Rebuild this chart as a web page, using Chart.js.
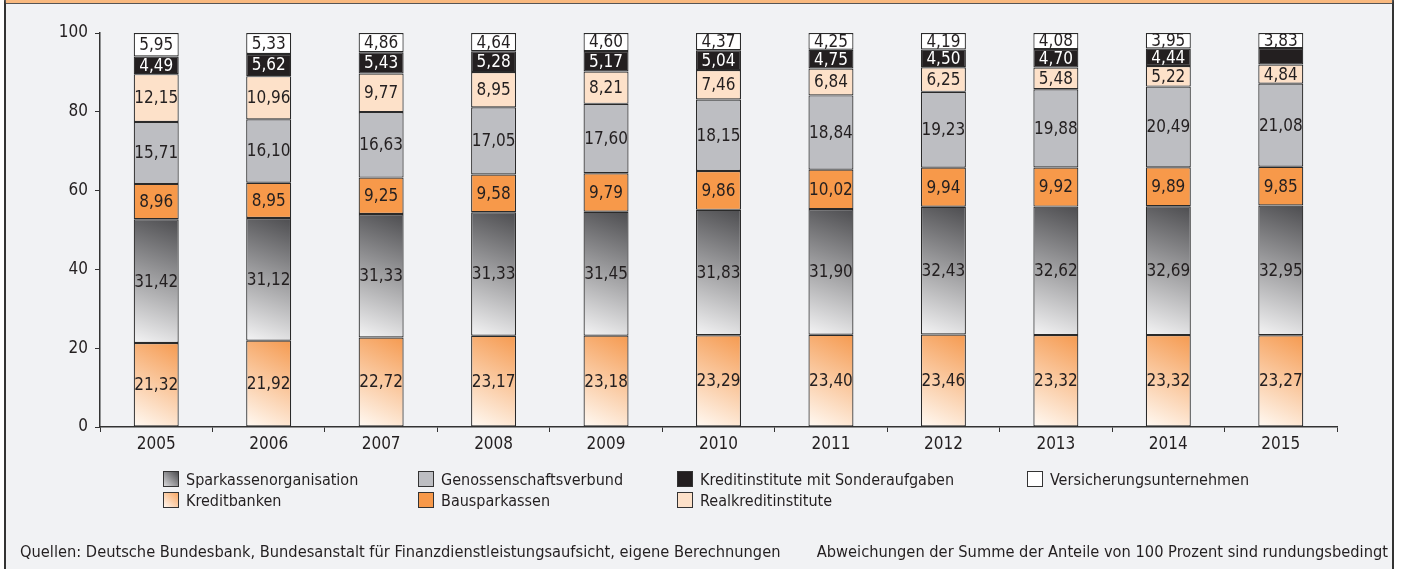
<!DOCTYPE html>
<html lang="de">
<head>
<meta charset="utf-8">
<script src="https://cdn.jsdelivr.net/npm/chart.js@4.4.1/dist/chart.umd.min.js"></script>
<style>
  body { margin: 0; background: #fff; font-family: "Liberation Sans Narrow", "DejaVu Sans Condensed", sans-serif; color: #231f20; }
  #frame {
    position: absolute; left: 4px; top: 0; width: 1390px; height: 569px;
    background: #f1f2f4; border-left: 2px solid #333; border-right: 2px solid #333;
    border-top: 4px solid #555; box-sizing: border-box;
  }
  #frame::before { content: ""; position: absolute; left: 0; right: 0; top: -4px; height: 3px; background: #f9b97f; }
  #wrap { position: absolute; left: 0; top: 0; width: 1401px; height: 569px; }
  .legend-item { position: absolute; font-size: 16px; line-height: 18px; white-space: nowrap; }
  .legend-item span.box { display: inline-block; width: 14px; height: 14px; border: 1px solid #333; vertical-align: -2px; margin-right: 7px; }
  .foot { position: absolute; top: 542px; font-size: 16.3px; white-space: nowrap; }
</style>
</head>
<body>
<div id="frame"></div>
<div id="wrap"><canvas id="chart"></canvas></div>
<div id="legend"></div>
<div class="foot" style="left:20px">Quellen: Deutsche Bundesbank, Bundesanstalt für Finanzdienstleistungsaufsicht, eigene Berechnungen</div>
<div class="foot" style="right:13px">Abweichungen der Summe der Anteile von 100 Prozent sind rundungsbedingt</div>
<script>
const years = ["2005", "2006", "2007", "2008", "2009", "2010", "2011", "2012", "2013", "2014", "2015"];

const kreditbanken = [21.32, 21.92, 22.72, 23.17, 23.18, 23.29, 23.40, 23.46, 23.32, 23.32, 23.27];
const sparkassen = [31.42, 31.12, 31.33, 31.33, 31.45, 31.83, 31.90, 32.43, 32.62, 32.69, 32.95];
const bausparkassen = [8.96, 8.95, 9.25, 9.58, 9.79, 9.86, 10.02, 9.94, 9.92, 9.89, 9.85];
const genossenschaften = [15.71, 16.10, 16.63, 17.05, 17.60, 18.15, 18.84, 19.23, 19.88, 20.49, 21.08];
const realkredit = [12.15, 10.96, 9.77, 8.95, 8.21, 7.46, 6.84, 6.25, 5.48, 5.22, 4.84];
const sonderaufgaben = [4.49, 5.62, 5.43, 5.28, 5.17, 5.04, 4.75, 4.50, 4.70, 4.44, 4.18];
const versicherungen = [5.95, 5.33, 4.86, 4.64, 4.60, 4.37, 4.25, 4.19, 4.08, 3.95, 3.83];

const yTicks = [0, 20, 40, 60, 80, 100];

// value labels not printed in the original (2015 Sonderaufgaben)
const unlabelled = { "Kreditinstitute mit Sonderaufgaben": [10] };

const FONT = '"Liberation Sans Narrow", "DejaVu Sans Condensed", sans-serif';

// gradient across one stacked segment: top-right colour -> bottom-left colour
function segmentGradient(topColor, bottomColor) {
  return (c) => {
    const chart = c.chart;
    const x = chart.scales.x, y = chart.scales.y;
    if (c.type !== "data" || !chart.chartArea || !x || !y) return topColor;
    const i = c.dataIndex;
    let base = 0;
    for (let k = 0; k < c.datasetIndex; k++) base += chart.data.datasets[k].data[i];
    const top = base + chart.data.datasets[c.datasetIndex].data[i];
    const cx = x.getPixelForValue(i);
    const half = x.getPixelForValue(1) - x.getPixelForValue(0);
    const g = chart.ctx.createLinearGradient(cx + half * 0.2, y.getPixelForValue(top), cx - half * 0.2, y.getPixelForValue(base));
    g.addColorStop(0, topColor);
    g.addColorStop(1, bottomColor);
    return g;
  };
}

const series = [
  { label: "Kreditbanken", data: kreditbanken, bg: segmentGradient("#f59a50", "#fffaf4"), legendBg: "linear-gradient(45deg,#fff6ee,#f8a865)", text: "#231f20" },
  { label: "Sparkassenorganisation", data: sparkassen, bg: segmentGradient("#4d4d50", "#f4f4f5"), legendBg: "linear-gradient(45deg,#d8d8da,#4d4d50)", text: "#231f20" },
  { label: "Bausparkassen", data: bausparkassen, bg: "#f7994a", legendBg: "#f7994a", text: "#231f20" },
  { label: "Genossenschaftsverbund", data: genossenschaften, bg: "#bdbec2", legendBg: "#bdbec2", text: "#231f20" },
  { label: "Realkreditinstitute", data: realkredit, bg: "#fde1c9", legendBg: "#fde1c9", text: "#231f20" },
  { label: "Kreditinstitute mit Sonderaufgaben", data: sonderaufgaben, bg: "#231f20", legendBg: "#231f20", text: "#ffffff" },
  { label: "Versicherungsunternehmen", data: versicherungen, bg: "#ffffff", legendBg: "#ffffff", text: "#231f20" }
];

const valueLabels = {
  id: "valueLabels",
  afterDatasetsDraw(chart) {
    const ctx = chart.ctx;
    ctx.save();
    ctx.font = "17px " + FONT;
    ctx.textAlign = "center";
    ctx.textBaseline = "middle";
    chart.data.datasets.forEach((ds, di) => {
      const skip = unlabelled[ds.label] || [];
      chart.getDatasetMeta(di).data.forEach((bar, i) => {
        if (skip.includes(i)) return;
        ctx.fillStyle = series[di].text;
        ctx.fillText(ds.data[i].toFixed(2).replace(".", ","), bar.x, (bar.y + bar.base) / 2 + 1);
      });
    });
    ctx.restore();
  }
};

new Chart(document.getElementById("chart"), {
  type: "bar",
  data: {
    labels: years,
    datasets: series.map((s) => ({
      label: s.label,
      data: s.data,
      backgroundColor: s.bg,
      borderColor: "#2a2a2a",
      borderWidth: 1.2,
      borderSkipped: false,
      barPercentage: 0.8,
      categoryPercentage: 0.5
    }))
  },
  options: {
    responsive: true,
    maintainAspectRatio: false,
    animation: false,
    layout: { padding: { left: 0, right: 64, top: 33, bottom: 112 } },
    plugins: { legend: { display: false }, tooltip: { enabled: false } },
    scales: {
      x: {
        stacked: true,
        grid: { drawOnChartArea: false, offset: true, tickLength: 5, color: "#333" },
        border: { color: "#333", width: 1.5 },
        ticks: { color: "#231f20", font: { family: FONT, size: 17 }, padding: 2 },
        afterFit: (s) => { s.height = 30; }
      },
      y: {
        stacked: true,
        min: 0,
        max: 100,
        grid: { drawOnChartArea: false, tickLength: 5, color: "#333" },
        border: { color: "#333", width: 1.5 },
        afterBuildTicks: (s) => { s.ticks = yTicks.map((v) => ({ value: v })); },
        ticks: { color: "#231f20", font: { family: FONT, size: 17 }, padding: 7 },
        afterFit: (s) => { s.width = 100; }
      }
    }
  },
  plugins: [valueLabels]
});

// legend, two rows like the original
const legendOrder = [
  ["Sparkassenorganisation", 163, 471],
  ["Genossenschaftsverbund", 418, 471],
  ["Kreditinstitute mit Sonderaufgaben", 677, 471],
  ["Versicherungsunternehmen", 1027, 471],
  ["Kreditbanken", 163, 492],
  ["Bausparkassen", 418, 492],
  ["Realkreditinstitute", 677, 492]
];
const legendEl = document.getElementById("legend");
legendOrder.forEach(([name, left, top]) => {
  const s = series.find((d) => d.label === name);
  const item = document.createElement("div");
  item.className = "legend-item";
  item.style.left = left + "px";
  item.style.top = top + "px";
  item.innerHTML = `<span class="box" style="background:${s.legendBg}"></span>${name}`;
  legendEl.appendChild(item);
});
</script>
</body>
</html>
